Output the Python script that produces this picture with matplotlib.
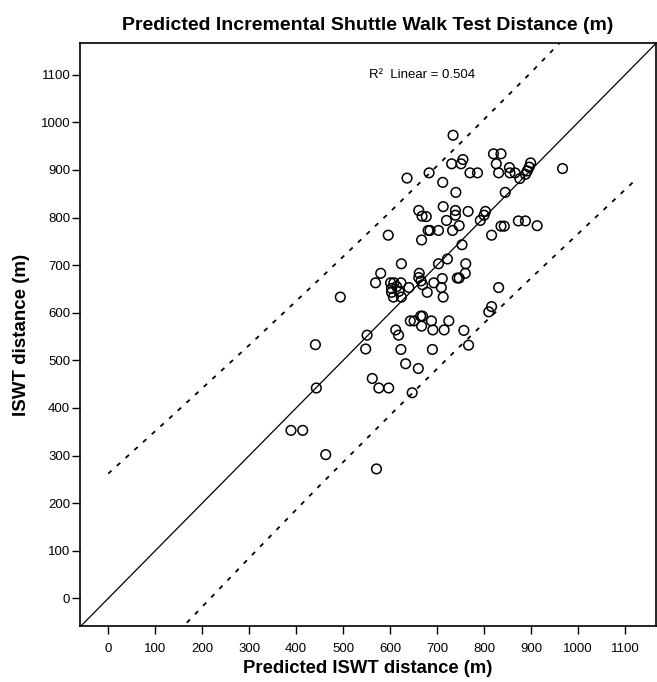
import numpy as np
import matplotlib
matplotlib.use('Agg')
import matplotlib.pyplot as plt

plt.rcParams['font.family'] = ['Liberation Sans', 'DejaVu Sans']

predicted = [734, 820, 836, 755, 731, 751, 826, 899, 896, 892, 888, 854, 855, 866,
             831, 876, 770, 786, 683, 636, 712, 740, 967, 845, 661, 668, 677, 713,
             739, 739, 766, 720, 803, 800, 792, 747, 733, 681, 685, 703, 667, 596,
             753, 836, 843, 873, 888, 913, 816,
             624, 703, 722, 761, 760, 580, 569, 494, 662, 661, 666, 669, 743, 747,
             711, 693, 679, 713, 709, 601, 608, 623, 614, 603, 603, 619, 607, 624,
             640, 831, 816, 810,
             551, 548, 441, 612, 618, 643, 651, 665, 669, 667, 688, 691, 715, 725,
             757, 767, 623, 690, 633, 660, 562, 576, 597, 443, 647, 389, 414, 463,
             571]
measured = [973, 934, 934, 922, 913, 913, 913, 915, 906, 898, 891, 905, 894, 894,
            894, 882, 894, 894, 894, 883, 874, 853, 903, 853, 815, 803, 802, 823,
            815, 805, 813, 794, 813, 805, 794, 783, 773, 773, 773, 773, 753, 763,
            743, 782, 782, 793, 793, 783, 763,
            703, 703, 713, 703, 683, 683, 663, 633, 683, 674, 667, 659, 673, 673,
            672, 663, 643, 633, 653, 663, 663, 663, 655, 651, 643, 645, 633, 633,
            653, 653, 613, 602,
            553, 524, 533, 564, 553, 583, 583, 593, 593, 572, 583, 564, 564, 583,
            563, 532, 523, 523, 493, 483, 462, 442, 442, 442, 432, 353, 353, 302,
            272]

# line of identity
ref_x = [-60, 1165]
ref_y = [-60, 1165]
# prediction limits (slightly curved)
upper_x = [0, 150, 300, 450, 600, 750, 900, 960]
upper_y = [262, 396, 532, 671, 812, 957, 1105, 1166]
lower_x = [150, 300, 450, 600, 750, 900, 1000, 1120]
lower_y = [-69, 85, 237, 385, 531, 673, 766, 877]

ticks = list(range(0, 1101, 100))

fig = plt.figure(figsize=(6.57, 6.82), dpi=100)
ax = fig.add_axes([0.1218, 0.0821, 0.876, 0.855])

ax.plot(ref_x, ref_y, color='black', lw=0.9)
ax.plot(upper_x, upper_y, color='black', lw=1.3, ls=(0, (2.5, 4)))
ax.plot(lower_x, lower_y, color='black', lw=1.3, ls=(0, (2.5, 4)))
ax.scatter(predicted, measured, s=48, facecolors='none', edgecolors='black', linewidths=1.1, zorder=3)

ax.text(555, 1100, 'R\u00b2  Linear = 0.504', fontsize=9.5, ha='left', va='center')

ax.set_xlim(-60, 1165)
ax.set_ylim(-58, 1167)
ax.set_xticks(ticks)
ax.set_yticks(ticks)
ax.tick_params(axis='x', direction='out', length=6, width=1, labelsize=9.5, pad=6)
ax.tick_params(axis='y', direction='out', length=6, width=1, labelsize=9.5, pad=1)
for s in ax.spines.values():
    s.set_linewidth(1.2)

ax.set_title('Predicted Incremental Shuttle Walk Test Distance (m)', fontsize=14, fontweight='bold', pad=9)
ax.set_xlabel('Predicted ISWT distance (m)', fontsize=13.3, fontweight='bold', labelpad=4)
ax.set_ylabel('ISWT distance (m)', fontsize=13.5, fontweight='bold', labelpad=8)

fig.savefig('out.png', dpi=100)
